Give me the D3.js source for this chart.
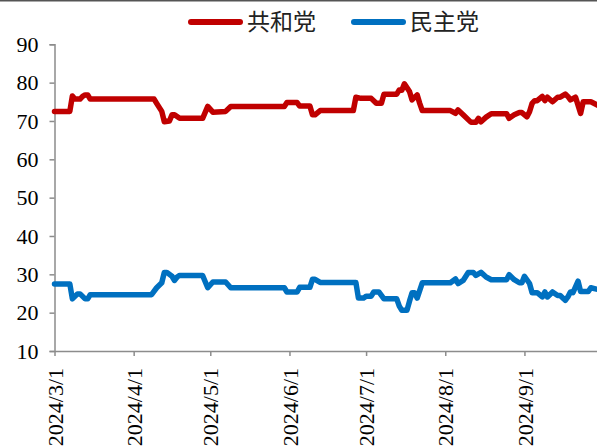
<!DOCTYPE html>
<html>
<head>
<meta charset="utf-8">
<script src="https://cdn.jsdelivr.net/npm/d3@7"></script>
<style>
  html, body { margin: 0; padding: 0; background: #fff; }
  svg { display: block; overflow: hidden; }
</style>
</head>
<body>
<svg id="chart" width="597" height="447"></svg>
<script>
// Series names and colours
const seriesNames = ["共和党", "民主党"];
const seriesColors = ["#C00000", "#0070C0"];

// Axis ticks
const yTicks = [10, 20, 30, 40, 50, 60, 70, 80, 90];
const xTickLabels = ["2024/3/1", "2024/4/1", "2024/5/1", "2024/6/1", "2024/7/1", "2024/8/1", "2024/9/1"];

// 共和党 (%)
const repDates = [
  "2024-03-01","2024-03-07","2024-03-08","2024-03-09","2024-03-11","2024-03-12","2024-03-13","2024-03-14","2024-03-15",
  "2024-04-09","2024-04-10","2024-04-12","2024-04-13","2024-04-15","2024-04-16","2024-04-17","2024-04-19","2024-04-28",
  "2024-04-30","2024-05-02","2024-05-07","2024-05-09","2024-05-30","2024-05-31","2024-06-04","2024-06-05","2024-06-09",
  "2024-06-10","2024-06-11","2024-06-13","2024-06-26","2024-06-27","2024-06-29","2024-07-03","2024-07-05","2024-07-07",
  "2024-07-08","2024-07-13","2024-07-14","2024-07-15","2024-07-16","2024-07-18","2024-07-19","2024-07-21","2024-07-22",
  "2024-07-23","2024-08-03","2024-08-05","2024-08-06","2024-08-08","2024-08-11","2024-08-13","2024-08-14","2024-08-15",
  "2024-08-17","2024-08-19","2024-08-25","2024-08-26","2024-08-28","2024-08-30","2024-08-31","2024-09-02","2024-09-03",
  "2024-09-04","2024-09-05","2024-09-06","2024-09-08","2024-09-09","2024-09-10","2024-09-12","2024-09-14","2024-09-15",
  "2024-09-17","2024-09-18","2024-09-19","2024-09-21","2024-09-23","2024-09-24","2024-09-27","2024-09-30"
];
const repValues = [
  72.5, 72.5, 76.5, 75.7, 75.7, 76.4, 76.8, 76.8, 75.7,
  75.7, 74.6, 72.5, 69.8, 70.0, 71.6, 71.6, 70.7, 70.7,
  73.8, 72.3, 72.5, 73.8, 73.8, 74.8, 74.8, 73.9, 73.9,
  71.6, 71.6, 72.7, 72.7, 76.2, 75.9, 75.9, 74.6, 74.6,
  77.0, 77.0, 78.1, 78.0, 79.7, 77.7, 75.5, 76.8, 74.6,
  72.7, 72.7, 72.0, 72.9, 71.6, 69.7, 69.7, 70.7, 69.8,
  71.0, 71.9, 71.9, 70.7, 71.6, 72.2, 72.2, 71.1, 72.4,
  74.6, 75.3, 75.3, 76.4, 75.3, 76.2, 75.0, 76.2, 76.2,
  77.0, 76.4, 75.5, 76.2, 72.0, 75.0, 75.0, 74.0
];

// 民主党 (%)
const demDates = [
  "2024-03-01","2024-03-07","2024-03-08","2024-03-10","2024-03-11","2024-03-13","2024-03-14","2024-03-15","2024-04-08",
  "2024-04-10","2024-04-12","2024-04-13","2024-04-14","2024-04-16","2024-04-17","2024-04-18","2024-04-19","2024-04-28",
  "2024-04-30","2024-05-02","2024-05-07","2024-05-09","2024-05-30","2024-05-31","2024-06-04","2024-06-05","2024-06-09",
  "2024-06-10","2024-06-11","2024-06-13","2024-06-27","2024-06-28","2024-06-30","2024-07-01","2024-07-03","2024-07-04",
  "2024-07-06","2024-07-08","2024-07-13","2024-07-14","2024-07-15","2024-07-17","2024-07-18","2024-07-19","2024-07-20",
  "2024-07-21","2024-07-23","2024-08-03","2024-08-05","2024-08-06","2024-08-08","2024-08-10","2024-08-12","2024-08-13",
  "2024-08-15","2024-08-17","2024-08-19","2024-08-25","2024-08-26","2024-08-28","2024-08-30","2024-08-31","2024-09-01",
  "2024-09-03","2024-09-04","2024-09-06","2024-09-08","2024-09-09","2024-09-10","2024-09-12","2024-09-14","2024-09-15",
  "2024-09-17","2024-09-18","2024-09-19","2024-09-20","2024-09-22","2024-09-23","2024-09-26","2024-09-27","2024-09-30"
];
const demValues = [
  27.5, 27.5, 23.6, 24.9, 24.9, 23.6, 23.6, 24.7, 24.7,
  26.5, 27.8, 30.5, 30.5, 29.5, 28.4, 29.3, 29.7, 29.7,
  26.5, 28.0, 28.0, 26.5, 26.5, 25.4, 25.4, 26.6, 26.6,
  28.7, 28.7, 27.9, 27.9, 23.8, 23.8, 24.3, 24.3, 25.4,
  25.4, 23.6, 23.6, 21.7, 20.6, 20.6, 23.0, 25.2, 25.2,
  23.8, 27.8, 27.8, 28.8, 27.6, 28.4, 30.5, 30.5, 29.7,
  30.5, 29.3, 28.6, 28.6, 29.9, 28.6, 27.8, 27.8, 29.5,
  27.6, 25.2, 25.2, 24.1, 25.4, 24.1, 25.4, 24.5, 24.5,
  23.2, 24.1, 25.4, 25.2, 28.2, 25.5, 25.5, 26.5, 26.0
];

const parse = d3.timeParse("%Y-%m-%d");
const series = [
  { name: seriesNames[0], color: seriesColors[0], points: repDates.map((d, i) => ({ date: parse(d), value: repValues[i] })) },
  { name: seriesNames[1], color: seriesColors[1], points: demDates.map((d, i) => ({ date: parse(d), value: demValues[i] })) }
];

const svg = d3.select("#chart");
const W = 597, H = 447;

// Plot area: the time axis runs on past the right edge of the page
const plotLeft = 54.5, plotTop = 44.3, plotBottom = 351;
const x = d3.scaleTime()
  .domain([parse("2024-03-01"), parse("2024-10-01")])
  .range([plotLeft, plotLeft + 214 * 2.554]);
const y = d3.scaleLinear().domain([10, 90]).range([plotBottom, plotTop]);

const axisColor = "#8c8c8c";
const numFont = "'Liberation Serif', 'Times New Roman', serif";

// thin rule along the top edge
svg.append("rect").attr("x", 0).attr("y", 0).attr("width", W).attr("height", 1.5).attr("fill", "#555");

// Y axis
const yAxis = svg.append("g")
  .attr("transform", `translate(${plotLeft},0)`)
  .call(d3.axisLeft(y).tickValues(yTicks).tickSize(5).tickPadding(11).tickFormat(d3.format("d")));
yAxis.select(".domain").attr("stroke", axisColor).attr("stroke-width", 1.5);
yAxis.selectAll(".tick line").attr("stroke", axisColor).attr("stroke-width", 1.5);
yAxis.selectAll(".tick text")
  .attr("fill", "#000").style("font-family", numFont).style("font-size", "22px");

// X axis (monthly ticks)
const tickDates = xTickLabels.map(s => d3.timeParse("%Y/%m/%d")(s));
const xAxis = svg.append("g")
  .attr("transform", `translate(0,${plotBottom})`)
  .call(d3.axisBottom(x).tickValues(tickDates).tickSize(5).tickSizeOuter(0)
    .tickFormat((d, i) => xTickLabels[i]));
xAxis.select(".domain").attr("stroke", axisColor).attr("stroke-width", 1.5);
xAxis.selectAll(".tick line").attr("stroke", axisColor).attr("stroke-width", 1.5);
xAxis.selectAll(".tick text")
  .attr("fill", "#000")
  .style("font-family", numFont).style("font-size", "22px")
  .attr("text-anchor", "end")
  .attr("transform", "rotate(-90)")
  .attr("x", -17)
  .attr("y", 0)
  .attr("dy", "0.35em");

// Lines
const line = d3.line()
  .x(d => x(d.date))
  .y(d => y(d.value));

svg.append("g").selectAll("path")
  .data(series)
  .join("path")
  .attr("d", d => line(d.points))
  .attr("fill", "none")
  .attr("stroke", d => d.color)
  .attr("stroke-width", 5.5)
  .attr("stroke-linejoin", "round")
  .attr("stroke-linecap", "round");

// Legend
const legendItems = [
  { name: seriesNames[0], color: seriesColors[0], x: 188 },
  { name: seriesNames[1], color: seriesColors[1], x: 351 }
];
const legend = svg.append("g").attr("transform", "translate(0,22)");
const li = legend.selectAll("g").data(legendItems).join("g")
  .attr("transform", d => `translate(${d.x},0)`);
li.append("line")
  .attr("x1", 3).attr("x2", 52).attr("y1", 0).attr("y2", 0)
  .attr("stroke", d => d.color).attr("stroke-width", 6).attr("stroke-linecap", "round");
li.append("text")
  .attr("x", 59).attr("y", 0).attr("dy", "0.36em")
  .style("font-family", "'Noto Sans CJK SC', sans-serif")
  .style("font-size", "23px")
  .attr("fill", "#222")
  .text(d => d.name);
</script>
</body>
</html>
